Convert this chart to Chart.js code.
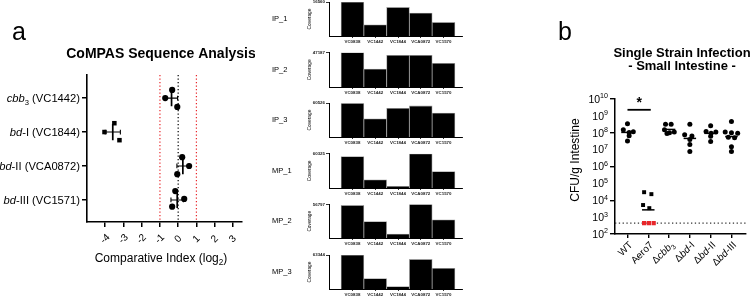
<!DOCTYPE html>
<html><head><meta charset="utf-8">
<script src="https://cdn.jsdelivr.net/npm/chart.js@4.4.1/dist/chart.umd.min.js"></script>
<style>
html,body{margin:0;padding:0;background:#fff;}
body{width:750px;height:297px;position:relative;overflow:hidden;}
canvas{position:absolute;}
</style></head><body>
<script>
// ---------------- DATA ----------------
// Panel a: CoMPAS comparative index (log2), 3 replicates per gene
const ciGenes = ['<i>cbb</i><sub>3</sub> (VC1442)', '<i>bd</i>-I (VC1844)', '<i>bd</i>-II (VCA0872)', '<i>bd</i>-III (VC1571)'];
const ciCbb3  = [-0.71, -0.33, -0.05];
const ciBdI   = [-4.04, -3.50, -3.22];
const ciBdII  = [0.22, 0.60, -0.05];
const ciBdIII = [-0.16, 0.33, -0.33];
const ciTicks = [-4, -3, -2, -1, 0, 1, 2, 3];
const ciCutoffs = [-1, 1];

// Middle: coverage per locus for each sample
const covGenes = ['VC0838', 'VC1442', 'VC1844', 'VCA0872', 'VC1570'];
const covSamples = ['IP_1', 'IP_2', 'IP_3', 'MP_1', 'MP_2', 'MP_3'];
const covMax = [16560, 47187, 60526, 60325, 56797, 63344];
const covIP1 = [16560, 5460, 13910, 11190, 6620];
const covIP2 = [47187, 24540, 43410, 43410, 32560];
const covIP3 = [60526, 32680, 51450, 55680, 42970];
const covMP1 = [55500, 14480, 3020, 60325, 28960];
const covMP2 = [55090, 27830, 6820, 56797, 30670];
const covMP3 = [63344, 19640, 4430, 55110, 38640];

// Panel b: CFU/g small intestine
const strains = ['WT', 'Aero7', 'Δ<i>cbb</i><sub>3</sub>', 'Δ<i>bd</i>-I', 'Δ<i>bd</i>-II', 'Δ<i>bd</i>-III'];
const cfuWT    = [3.4e8, 1.5e8, 1.05e8, 1.15e8, 6.6e7, 3.3e7];
const cfuAero7 = [3.0e4, 2.3e4, 5.2e3, 3.4e3];
const aero7BelowLOD = 3;
const cfuCbb3  = [3.2e8, 3.2e8, 1.5e8, 1.1e8, 1.0e8, 9.0e7];
const cfuBdI   = [3.2e8, 7.5e7, 6.5e7, 4.0e7, 2.0e7, 7.8e6];
const cfuBdII  = [2.6e8, 1.2e8, 1.1e8, 9.5e7, 6.3e7, 3.0e7];
const cfuBdIII = [4.7e8, 1.1e8, 1.0e8, 9.5e7, 5.5e7, 5.0e7, 1.5e7, 7.8e6];
const lod = 440;
const cfuDecades = [2, 3, 4, 5, 6, 7, 8, 9, 10];

// ---------------- HELPERS ----------------
const FAM = '"Liberation Sans", Arial, Helvetica, sans-serif';
function parseRich(str) {
  const segs = []; let it = false, sub = false, sup = false;
  const re = /<(\/?)(i|sub|sup)>|([^<]+)/g; let m;
  while ((m = re.exec(str))) {
    if (m[3]) segs.push({ t: m[3], it, sub, sup });
    else { const on = !m[1]; if (m[2] === 'i') it = on; if (m[2] === 'sub') sub = on; if (m[2] === 'sup') sup = on; }
  }
  return segs;
}
function segFont(s, size, bold) {
  const sz = (s.sub || s.sup) ? size * 0.68 : size;
  return (s.it ? 'italic ' : '') + (bold ? 'bold ' : '') + sz + 'px ' + FAM;
}
function richWidth(ctx, str, size, bold) {
  let w = 0; for (const s of parseRich(str)) { ctx.font = segFont(s, size, bold); w += ctx.measureText(s.t).width; } return w;
}
function drawRich(ctx, str, x, y, size, align, bold) {
  const w = richWidth(ctx, str, size, bold);
  let cx = align === 'right' ? x - w : align === 'center' ? x - w / 2 : x;
  ctx.textAlign = 'left'; ctx.textBaseline = 'alphabetic'; ctx.fillStyle = '#000';
  for (const s of parseRich(str)) {
    ctx.font = segFont(s, size, bold);
    const dy = s.sub ? size * 0.25 : s.sup ? -size * 0.42 : 0;
    ctx.fillText(s.t, cx, y + dy);
    cx += ctx.measureText(s.t).width;
  }
}
const mean = a => a.reduce((p, c) => p + c, 0) / a.length;
const sd = a => { const m = mean(a); return Math.sqrt(a.reduce((p, c) => p + (c - m) * (c - m), 0) / (a.length - 1)); };
function makeCanvas(left, top, w, h) {
  const c = document.createElement('canvas');
  c.width = w; c.height = h; c.style.left = left + 'px'; c.style.top = top + 'px';
  c.style.width = w + 'px'; c.style.height = h + 'px';
  document.body.appendChild(c); return c;
}
const baseOpts = { responsive: false, animation: false, events: [], plugins: { legend: { display: false }, tooltip: { enabled: false } } };

// ---------------- PANEL A ----------------
(function () {
  const groups = [ciCbb3, ciBdI, ciBdII, ciBdIII];
  const jitter = [[0, -0.24, 0.26], [0, -0.26, 0.24], [-0.26, 0, 0.24], [-0.26, -0.03, 0.2]];
  const yMin = -0.68, yMax = 3.65;
  const ds = [];
  groups.forEach((vals, c) => {
    const sq = c === 1;
    const m = mean(vals), s = sd(vals);
    ds.push({ data: vals.map((v, k) => ({ x: v, y: c + jitter[c][k] })), pointStyle: sq ? 'rect' : 'circle',
      pointRadius: sq ? 3.2 : 3.1, backgroundColor: '#000', borderColor: '#000', borderWidth: 0 });
    ds.push({ data: [{ x: m, y: c - 0.24 }, { x: m, y: c + 0.24 }], showLine: true, borderColor: '#000', borderWidth: 1.7, pointRadius: 0 });
    ds.push({ data: [{ x: m - s, y: c - 0.07 }, { x: m - s, y: c + 0.07 }, { x: null, y: null }, { x: m - s, y: c }, { x: m + s, y: c },
      { x: null, y: null }, { x: m + s, y: c - 0.07 }, { x: m + s, y: c + 0.07 }], showLine: true, spanGaps: false, borderColor: '#000', borderWidth: 1.1, pointRadius: 0 });
  });
  ciCutoffs.forEach(v => ds.push({ data: [{ x: v, y: yMin }, { x: v, y: yMax }], showLine: true, borderColor: '#e8262a', borderWidth: 1.2, borderDash: [1.3, 2.2], pointRadius: 0 }));
  ds.push({ data: [{ x: 0, y: yMin }, { x: 0, y: yMax }], showLine: true, borderColor: '#000', borderWidth: 1.2, borderDash: [1.3, 2.2], pointRadius: 0 });

  const decor = { id: 'decorA', afterDraw(ch) {
    const ctx = ch.ctx; ctx.save();
    ctx.fillStyle = '#000';
    ctx.font = '25px ' + FAM; ctx.textAlign = 'left'; ctx.textBaseline = 'alphabetic'; ctx.fillText('a', 12, 40);
    ctx.font = 'bold 14px ' + FAM; ctx.textAlign = 'center'; ctx.fillText('CoMPAS Sequence Analysis', 161, 58);
    drawRich(ctx, 'Comparative Index (log<sub>2</sub>)', 161, 262, 12, 'center');
    const ys = ch.scales.y, xs = ch.scales.x;
    ciGenes.forEach((g, i) => drawRich(ctx, g, 80, ys.getPixelForValue(i) + 4, 11.2, 'right'));
    ciTicks.forEach(v => {
      ctx.save(); ctx.translate(xs.getPixelForValue(v), xs.top + 17); ctx.rotate(-Math.PI / 4);
      ctx.font = '10px ' + FAM; ctx.textAlign = 'center'; ctx.textBaseline = 'middle'; ctx.fillText(String(v), 0, 0);
      ctx.restore();
    });
    ctx.restore();
  } };

  new Chart(makeCanvas(0, 0, 255, 297), { type: 'scatter', data: { datasets: ds },
    options: Object.assign({}, baseOpts, { layout: { padding: { top: 75, right: 13, left: 0, bottom: 0 } },
      scales: {
        x: { type: 'linear', min: -5, max: 3.5, afterBuildTicks: s => { s.ticks = ciTicks.map(v => ({ value: v })); }, afterFit: s => { s.height = 75; },
          ticks: { callback: () => '' },
          grid: { drawOnChartArea: false, tickLength: 5, color: '#000', lineWidth: 1.5 }, border: { color: '#000', width: 1.6 } },
        y: { type: 'linear', reverse: true, min: yMin, max: yMax, afterBuildTicks: s => { s.ticks = ciGenes.map((_, i) => ({ value: i })); }, afterFit: s => { s.width = 87; },
          ticks: { callback: () => '' }, grid: { drawOnChartArea: false, tickLength: 5, color: '#000', lineWidth: 1.5 }, border: { color: '#000', width: 1.6 } }
      } }), plugins: [decor] });
})();

// ---------------- MIDDLE COVERAGE PANELS ----------------
(function () {
  const series = [covIP1, covIP2, covIP3, covMP1, covMP2, covMP3];
  series.forEach((vals, i) => {
    const T = 2 + 50.6 * i;
    const decor = { id: 'decorM' + i, afterDraw(ch) {
      const ctx = ch.ctx, a = ch.chartArea; ctx.save(); ctx.fillStyle = '#000';
      const cy = (a.top + a.bottom) / 2;
      ctx.font = '7.5px ' + FAM; ctx.textAlign = 'left'; ctx.textBaseline = 'middle';
      ctx.fillText(covSamples[i], 10, cy);
      ctx.translate(48, cy); ctx.rotate(-Math.PI / 2);
      ctx.font = '4.8px ' + FAM; ctx.textAlign = 'center'; ctx.fillText('Coverage', 0, 0);
      ctx.restore();
    } };
    new Chart(makeCanvas(262, Math.round(T) - 5, 205, 50), { type: 'bar',
      data: { datasets: [{ data: vals.map((v, k) => ({ x: k, y: v })), backgroundColor: '#000', borderColor: '#9a9a9a', borderWidth: 0.8, barPercentage: 1, categoryPercentage: 1 }] },
      options: Object.assign({}, baseOpts, { layout: { padding: { top: 5 + (T - Math.round(T)), right: 5, left: 0, bottom: 0 } },
        scales: {
          x: { type: 'linear', offset: false, min: -1.03, max: 4.81, afterBuildTicks: s => { s.ticks = covGenes.map((_, k) => ({ value: k })); }, afterFit: s => { s.height = 11; },
            ticks: { callback: v => covGenes[Math.round(v)], font: { size: 4.4, weight: 'bold', family: FAM }, color: '#222', padding: 1, maxRotation: 0, minRotation: 0, autoSkip: false },
            grid: { offset: false, drawOnChartArea: false, tickLength: 2, color: '#000', lineWidth: 0.8 }, border: { color: '#000', width: 1 } },
          y: { min: 0, max: covMax[i], afterBuildTicks: s => { s.ticks = [{ value: covMax[i] }]; }, afterFit: s => { s.width = 67; },
            ticks: { font: { size: 4.4, weight: 'bold', family: FAM }, color: '#222', padding: 1, callback: v => String(v) },
            grid: { drawOnChartArea: false, tickLength: 3, color: '#000', lineWidth: 0.8 }, border: { color: '#000', width: 1 } }
        } }), plugins: [decor] });
  });
})();

// ---------------- PANEL B ----------------
(function () {
  const data = [cfuWT, cfuAero7, cfuCbb3, cfuBdI, cfuBdII, cfuBdIII];
  const jit = [
    [0, -0.2, 0.08, 0.28, 0.08, 0],
    [-0.2, 0.15, -0.25, 0.05],
    [-0.17, 0.1, -0.22, 0.25, 0.02, -0.1],
    [0, -0.25, 0.1, 0, 0, 0],
    [0, -0.22, 0.25, 0.02, 0, 0],
    [0, -0.3, 0, 0.3, -0.15, 0.15, 0, 0]
  ];
  const ds = [];
  data.forEach((vals, c) => {
    if (!vals.length) return;
    const sq = c === 1;
    ds.push({ data: vals.map((v, k) => ({ x: c + jit[c][k], y: v })), pointStyle: sq ? 'rect' : 'circle', pointRadius: sq ? 2.8 : 2.5,
      backgroundColor: '#000', borderColor: '#000', borderWidth: 0 });
    const all = sq ? vals.concat(Array(aero7BelowLOD).fill(lod)) : vals;
    const gm = Math.pow(10, mean(all.map(v => Math.log10(v))));
    ds.push({ data: [{ x: c - 0.3, y: gm }, { x: c + 0.3, y: gm }], showLine: true, borderColor: '#000', borderWidth: 1.5, pointRadius: 0 });
  });
  const redOff = [-0.2, 0.03, 0.26];
  ds.push({ data: redOff.slice(0, aero7BelowLOD).map(o => ({ x: 1 + o, y: lod })), pointStyle: 'rect', pointRadius: 3, backgroundColor: '#e8262a', borderColor: '#e8262a', borderWidth: 0 });
  ds.push({ data: [{ x: -0.6, y: lod }, { x: 5.7, y: lod }], showLine: true, borderColor: '#333', borderWidth: 1.1, borderDash: [1.3, 2.5], pointRadius: 0 });
  const sigY = Math.pow(10, 9.36);
  ds.push({ data: [{ x: 0, y: sigY }, { x: 1.12, y: sigY }], showLine: true, borderColor: '#000', borderWidth: 1.8, pointRadius: 0 });

  const L = 480;
  const decor = { id: 'decorB', afterDraw(ch) {
    const ctx = ch.ctx; ctx.save(); ctx.fillStyle = '#000';
    ctx.font = '25px ' + FAM; ctx.textAlign = 'left'; ctx.textBaseline = 'alphabetic'; ctx.fillText('b', 558 - L, 40);
    ctx.font = 'bold 13px ' + FAM; ctx.textAlign = 'center';
    ctx.fillText('Single Strain Infection', 682 - L, 57);
    ctx.fillText('- Small Intestine -', 682 - L, 70);
    ctx.save(); ctx.translate(579 - L, 160); ctx.rotate(-Math.PI / 2); ctx.font = '12px ' + FAM; ctx.textAlign = 'center'; ctx.fillText('CFU/g Intestine', 0, 0); ctx.restore();
    const ys = ch.scales.y, xs = ch.scales.x;
    cfuDecades.forEach(e => drawRich(ctx, '10<sup>' + e + '</sup>', ys.right - 7, ys.getPixelForValue(Math.pow(10, e)) + 3.8, 10.5, 'right'));
    strains.forEach((s, i) => {
      ctx.save(); ctx.translate(xs.getPixelForValue(i) + 3, xs.top + 9); ctx.rotate(-Math.PI / 4);
      drawRich(ctx, s, 0, 3.5, 10, 'right'); ctx.restore();
    });
    ctx.font = 'bold 14px ' + FAM; ctx.textAlign = 'center'; ctx.textBaseline = 'alphabetic';
    ctx.fillText('*', xs.getPixelForValue(0.56), ys.getPixelForValue(sigY) - 3);
    ctx.restore();
  } };

  new Chart(makeCanvas(L, 0, 270, 297), { type: 'scatter', data: { datasets: ds },
    options: Object.assign({}, baseOpts, { layout: { padding: { top: 99, right: 0, left: 0, bottom: 0 } },
      scales: {
        x: { type: 'linear', min: -0.6, max: 5.7, afterBuildTicks: s => { s.ticks = strains.map((_, i) => ({ value: i })); }, afterFit: s => { s.height = 63; },
          ticks: { callback: () => '' }, grid: { drawOnChartArea: false, tickLength: 4, color: '#000', lineWidth: 1.4 }, border: { color: '#000', width: 1.5 } },
        y: { type: 'logarithmic', min: 100, max: 1e10, afterBuildTicks: s => { s.ticks = cfuDecades.map(e => ({ value: Math.pow(10, e) })); }, afterFit: s => { s.width = 135; },
          ticks: { callback: () => '' }, grid: { drawOnChartArea: false, tickLength: 5, color: '#000', lineWidth: 1.4 }, border: { color: '#000', width: 1.5 } }
      } }), plugins: [decor] });
})();
</script>
</body></html>
